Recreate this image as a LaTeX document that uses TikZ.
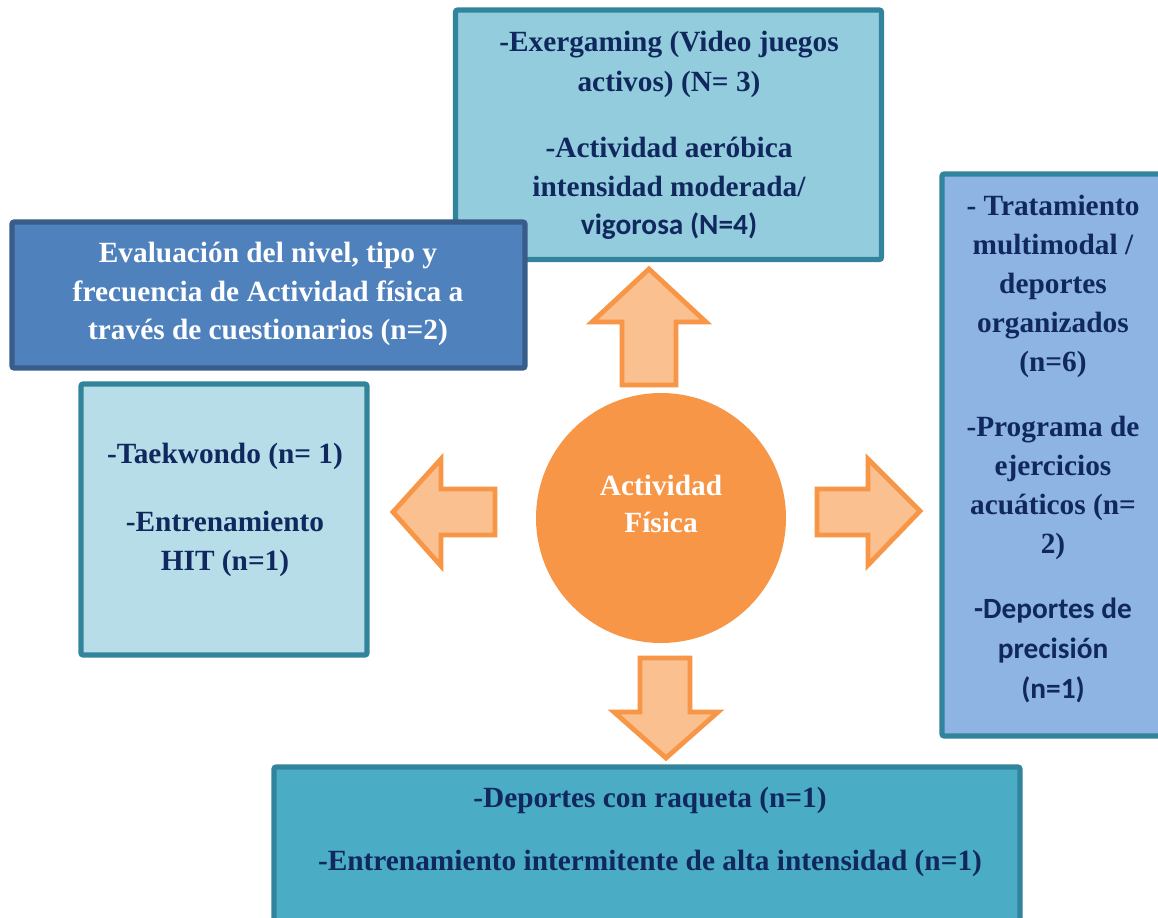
\documentclass[tikz,border=0pt]{standalone}
\usepackage{fontspec}
\setmainfont{Liberation Serif}
\newfontfamily\calib{Carlito}
\definecolor{tealB}{HTML}{31849B}
\definecolor{aqua40}{HTML}{93CDDD}
\definecolor{aqua60}{HTML}{B7DEE8}
\definecolor{aquaM}{HTML}{4BACC6}
\definecolor{blueA}{HTML}{4F81BD}
\definecolor{blueB}{HTML}{385D8A}
\definecolor{blueL}{HTML}{8EB4E3}
\definecolor{orangeA}{HTML}{F79646}
\definecolor{orangeL}{HTML}{FAC090}
\definecolor{navy}{HTML}{10285E}
\begin{document}
\begin{tikzpicture}[x=0.75pt,y=-0.75pt,
 panel/.style={draw=tealB,line width=3.8pt,rounded corners=1.5pt},
 blockarrow/.style={draw=orangeA,fill=orangeL,line width=3.6pt,line join=miter},
 ln/.style={font=\fontsize{22}{29}\selectfont\bfseries,text=navy,inner sep=0pt,anchor=base},
 lnc/.style={ln,font=\fontsize{22}{29}\selectfont\calib\bfseries},
 lnw/.style={ln,text=white}]
\useasboundingbox (0,0) rectangle (1158,918);
\clip (0,0) rectangle (1158,918);
% panels
\draw[panel,fill=aqua40] (455.5,10) coordinate (topA) rectangle (881.5,259.5) coordinate (topB);
\draw[panel,draw=blueB,fill=blueA] (12,222) coordinate (evA) rectangle (525,368) coordinate (evB);
\draw[panel,fill=aqua60] (81,384) coordinate (lfA) rectangle (367,655) coordinate (lfB);
\draw[panel,fill=blueL] (942,174) coordinate (rtA) rectangle (1175,736) coordinate (rtB);
\draw[panel,fill=aquaM] (274,767) coordinate (btA) rectangle (1020,935) coordinate (btB);
% centre
\node[circle,fill=orangeA,minimum size=187.5pt,inner sep=0pt] (centre) at (661,518) {};
% block arrows
\draw[blockarrow] (649,269) -- (706,322) -- (676,322) -- (676,385) -- (622,385) -- (622,322) -- (592,322) -- cycle;
\draw[blockarrow] (393,512) -- (441,459) -- (441,489) -- (495,489) -- (495,535) -- (441,535) -- (441,566) -- cycle;
\draw[blockarrow] (920,511) -- (868,459) -- (868,489) -- (817,489) -- (817,535) -- (868,535) -- (868,565) -- cycle;
\draw[blockarrow] (666,758) -- (718,712) -- (690,712) -- (690,658) -- (640,658) -- (640,712) -- (614,712) -- cycle;
% centre text
\node[lnw] (c1) at (661,495) {Actividad};
\node[lnw] (c2) at (661,532) {Física};
% top panel
\node[ln] (t1) at (669,51) {-Exergaming (Video juegos};
\node[ln] (t2) at (669,91) {activos) (N= 3)};
\node[ln] (t3) at (669,157) {-Actividad aeróbica};
\node[ln] (t4) at (669,196) {intensidad moderada/};
\node[lnc] (t5) at (669,234) {vigorosa (N=4)};
% evaluation panel
\node[lnw] (e1) at (268,262) {Evaluación del nivel, tipo y};
\node[lnw] (e2) at (268,301) {frecuencia de Actividad física a};
\node[lnw] (e3) at (268,339) {través de cuestionarios (n=2)};
% left panel
\node[ln] (l1) at (225,463) {-Taekwondo (n= 1)};
\node[ln] (l2) at (225,531) {-Entrenamiento};
\node[ln] (l3) at (225,570) {HIT (n=1)};
% right panel
\node[ln] (r1) at (1053,215) {- Tratamiento};
\node[ln] (r2) at (1053,254) {multimodal /};
\node[ln] (r3) at (1053,293) {deportes};
\node[ln] (r4) at (1053,332) {organizados};
\node[ln] (r5) at (1053,371) {(n=6)};
\node[ln] (r6) at (1053,436) {-Programa de};
\node[ln] (r7) at (1053,475) {ejercicios};
\node[ln] (r8) at (1053,514) {acuáticos (n=};
\node[ln] (r9) at (1053,553) {2)};
\node[lnc] (r10) at (1053,618) {-Deportes de};
\node[lnc] (r11) at (1053,658) {precisión};
\node[lnc] (r12) at (1053,698) {(n=1)};
% bottom panel
\node[ln] (b1) at (650,807) {-Deportes con raqueta (n=1)};
\node[ln] (b2) at (650,870) {-Entrenamiento intermitente de alta intensidad (n=1)};
\end{tikzpicture}
\end{document}
